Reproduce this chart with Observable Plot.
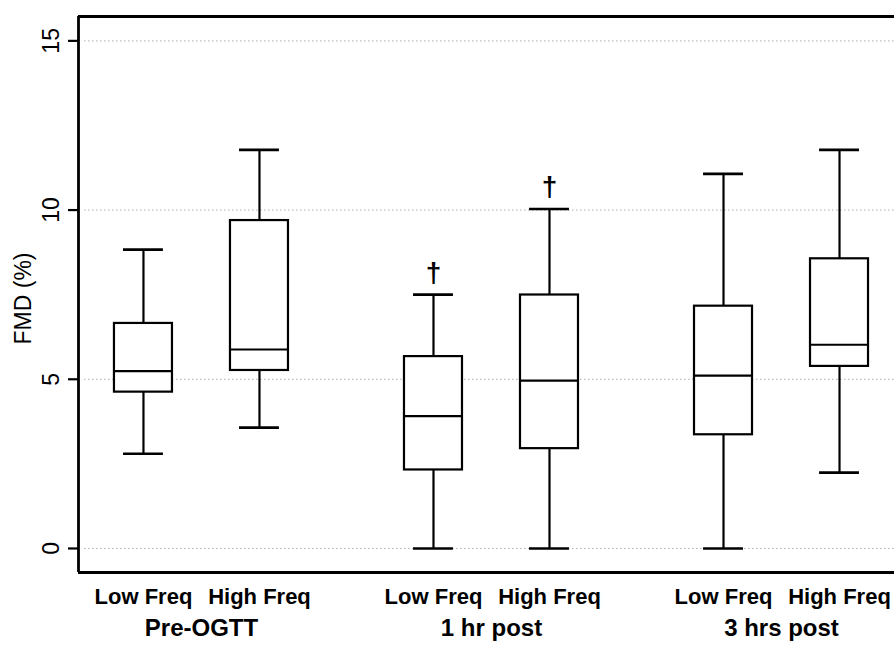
<!DOCTYPE html>
<html>
<head>
<meta charset="utf-8">
<script src="https://cdn.jsdelivr.net/npm/d3@7"></script>
<script src="https://cdn.jsdelivr.net/npm/@observablehq/plot@0.6"></script>
<style>
  html, body { margin: 0; padding: 0; background: white; overflow: hidden; }
</style>
</head>
<body>
<div id="chart"></div>
<script>
// ---- data ----
const groups = ["Pre-OGTT", "1 hr post", "3 hrs post"];
const freqs = ["Low Freq", "High Freq"];
const lowWhisker  = [2.80, 3.57, 0.00, 0.00, 0.00, 2.24];
const q1Values    = [4.62, 5.26, 2.32, 2.95, 3.36, 5.38];
const medians     = [5.24, 5.88, 3.91, 4.96, 5.11, 6.02];
const q3Values    = [6.65, 9.69, 5.67, 7.49, 7.16, 8.56];
const highWhisker = [8.83, 11.78, 7.50, 10.03, 11.07, 11.78];
const sigMarks    = ["", "", "†", "†", "", ""];
const yTicks = [0, 5, 10, 15];
const yTitle = "FMD (%)";

// ---- layout ----
const groupGap = 2.5;   // spacing between group starts (in box units)
const halfBox = 0.25;
const halfCap = 0.172;
const xDomain = [-0.56, 6.474];
const yDomain = [-0.71, 15.72];

const boxes = medians.map((m, i) => ({
  group: groups[Math.floor(i / 2)],
  freq: freqs[i % 2],
  pos: Math.floor(i / 2) * groupGap + (i % 2),
  lo: lowWhisker[i], q1: q1Values[i], med: m, q3: q3Values[i], hi: highWhisker[i],
  sig: sigMarks[i]
}));
const groupRows = groups.map((g, j) => ({group: g, pos: j * groupGap + 0.5}));

const lw = 2.2;
const chart = Plot.plot({
  width: 894,
  height: 645,
  marginLeft: 78,
  marginRight: 0,
  marginTop: 16,
  marginBottom: 73,
  style: {fontFamily: "'Liberation Sans', Arial, sans-serif", background: "white", color: "black"},
  x: {type: "linear", domain: xDomain, axis: null},
  y: {domain: yDomain, axis: null},
  marks: [
    // grid
    Plot.ruleY(yTicks, {y: d => d, stroke: "#b0b0b0", strokeWidth: 1, strokeDasharray: "1.5,2.5", insetLeft: 6}),
    // frame (left, bottom, top)
    Plot.ruleX([xDomain[0]], {x: d => d, stroke: "black", strokeWidth: 2.8}),
    Plot.ruleY(yDomain, {y: d => d, stroke: "black", strokeWidth: 2.8}),
    // y ticks
    Plot.axisY(yTicks, {anchor: "left", tickSize: 10, tickFormat: () => "", strokeWidth: 2.2, label: null}),
    Plot.text(yTicks, {x: xDomain[0], y: d => d, text: d => String(d), rotate: -90, dx: -27, fontSize: 23}),
    Plot.text([yTitle], {frameAnchor: "left", textAnchor: "middle", text: d => d, rotate: -90, dx: -55, dy: 4, fontSize: 23}),
    // whiskers
    Plot.ruleX(boxes, {x: "pos", y1: "q3", y2: "hi", stroke: "black", strokeWidth: lw}),
    Plot.ruleX(boxes, {x: "pos", y1: "lo", y2: "q1", stroke: "black", strokeWidth: lw}),
    Plot.ruleY(boxes, {y: "hi", x1: d => d.pos - halfCap, x2: d => d.pos + halfCap, stroke: "black", strokeWidth: lw + 0.4}),
    Plot.ruleY(boxes, {y: "lo", x1: d => d.pos - halfCap, x2: d => d.pos + halfCap, stroke: "black", strokeWidth: lw + 0.4}),
    // boxes
    Plot.rect(boxes, {x1: d => d.pos - halfBox, x2: d => d.pos + halfBox, y1: "q1", y2: "q3", fill: "white", stroke: "black", strokeWidth: lw}),
    Plot.ruleY(boxes, {y: "med", x1: d => d.pos - halfBox, x2: d => d.pos + halfBox, stroke: "black", strokeWidth: lw}),
    // significance daggers
    Plot.text(boxes.filter(d => d.sig), {x: "pos", y: "hi", text: "sig", dy: -22, fontSize: 28, fontWeight: "bold"}),
    // x labels
    Plot.text(boxes, {x: "pos", frameAnchor: "bottom", text: "freq", dy: 31, fontSize: 22, fontWeight: "bold"}),
    Plot.text(groupRows, {x: "pos", frameAnchor: "bottom", text: "group", dy: 63, fontSize: 24, fontWeight: "bold"})
  ]
});
document.getElementById("chart").appendChild(chart);
</script>
</body>
</html>
